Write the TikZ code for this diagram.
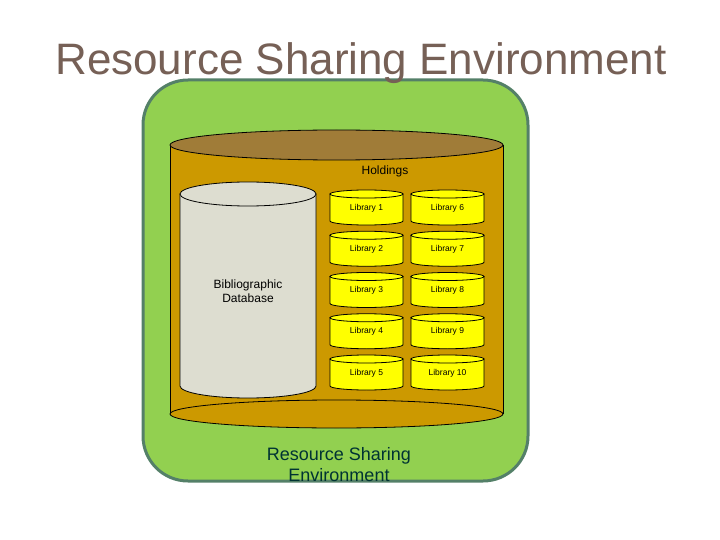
\documentclass[tikz,border=0pt]{standalone}
\usepackage{fontspec}
\setmainfont{Liberation Sans}
\definecolor{titlebrown}{RGB}{118,96,86}
\definecolor{envgreen}{RGB}{146,208,80}
\definecolor{envedge}{RGB}{84,128,104}
\definecolor{holdgold}{RGB}{204,153,0}
\definecolor{holdtop}{RGB}{160,124,56}
\definecolor{dbgrey}{RGB}{221,221,208}
\definecolor{libyellow}{RGB}{255,255,0}
\definecolor{envtext}{RGB}{0,51,51}
\tikzset{
  every node/.style={inner sep=0pt},
  tankline/.style={draw=black, line width=0.8pt},
  libtext/.style={font=\fontsize{8.5}{10}\selectfont},
  midtext/.style={font=\fontsize{12}{14}\selectfont, align=center},
}
\begin{document}
\begin{tikzpicture}[x=1pt,y=-1pt]
  \useasboundingbox (0,0) rectangle (720,540);
  % green environment box
  \draw[fill=envgreen, draw=envedge, line width=3pt, rounded corners=45pt] (143,80) rectangle (528,481);
  \node[font=\fontsize{44}{50}\selectfont, text=titlebrown, anchor=base] (title) at (361,75) {Resource Sharing Environment};

  % holdings tank
  \fill[holdgold] (170,145) rectangle (503,414);
  \draw[tankline] (170,145) -- (170,414) (503,145) -- (503,414);
  \draw[tankline, fill=holdgold] (336.5,414) ellipse [x radius=166.5pt, y radius=14pt];
  \draw[tankline, fill=holdtop] (336.5,145) ellipse [x radius=166.5pt, y radius=15pt];
  \node[midtext, anchor=base] (holdings) at (385,175) {Holdings};

  % bibliographic database
  \draw[tankline, fill=dbgrey] (180,194) -- (180,386)
    arc[start angle=180, end angle=360, x radius=68pt, y radius=12pt] -- (316,194) -- cycle;
  \draw[tankline, fill=dbgrey] (248,194) ellipse [x radius=68pt, y radius=12pt];
  \node[midtext] (biblio) at (248,291) {Bibliographic\\Database};

  % libraries
  \foreach \n in {1,...,10}{
    \pgfmathsetmacro{\cx}{366.5+81*int((\n-1)/5)}
    \pgfmathsetmacro{\cy}{208+41.25*mod(\n-1,5)}
    \begin{scope}[shift={(\cx,\cy)}]
      \draw[tankline, fill=libyellow] (-36.5,-14) -- (-36.5,13)
        arc[start angle=180, end angle=360, x radius=36.5pt, y radius=4pt] -- (36.5,-14) -- cycle;
      \draw[tankline, fill=libyellow] (0,-14) ellipse [x radius=36.5pt, y radius=4pt];
      \node[libtext] (lib\n) at (0,0) {Library \n};
    \end{scope}
  }

  \node[font=\fontsize{18}{21}\selectfont, text=envtext, align=center] (envlabel) at (339,465) {Resource Sharing\\Environment};
\end{tikzpicture}
\end{document}
